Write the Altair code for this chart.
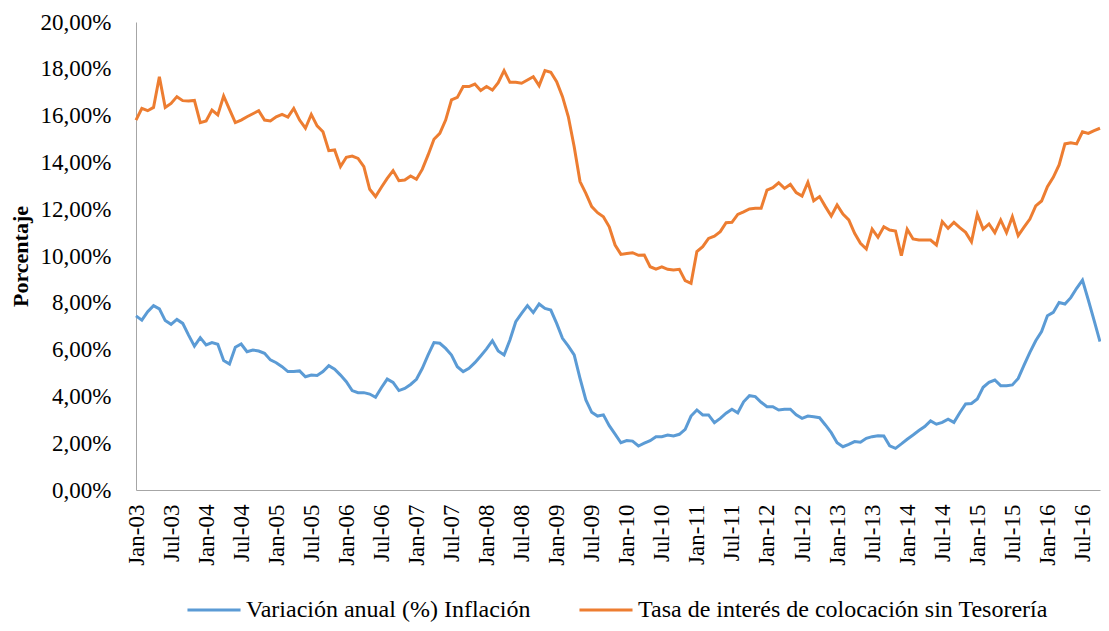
import altair as alt
import pandas as pd

abbr = ["Jan", "Feb", "Mar", "Apr", "May", "Jun", "Jul", "Aug", "Sep", "Oct", "Nov", "Dec"]
anios = list(range(3, 17))
meses = [f"{m}-{y:02d}" for y in anios for m in abbr][:166]
etiquetas_x = meses[::6]

series = ["Variación anual (%) Inflación", "Tasa de interés de colocación sin Tesorería"]
colores = ["#5B9BD5", "#ED7D31"]

inflacion = [
    7.44, 7.26, 7.62, 7.88, 7.74, 7.24, 7.08, 7.29, 7.12, 6.62,
    6.15, 6.51, 6.20, 6.30, 6.23, 5.53, 5.38, 6.10, 6.24, 5.91,
    5.98, 5.94, 5.84, 5.56, 5.44, 5.27, 5.06, 5.06, 5.09, 4.84,
    4.91, 4.89, 5.06, 5.31, 5.16, 4.91, 4.63, 4.25, 4.16, 4.16,
    4.10, 3.96, 4.37, 4.74, 4.60, 4.25, 4.34, 4.51, 4.73, 5.20,
    5.77, 6.30, 6.27, 6.05, 5.77, 5.27, 5.06, 5.20, 5.44, 5.73,
    6.03, 6.38, 5.94, 5.77, 6.41, 7.19, 7.55, 7.88, 7.58, 7.95,
    7.76, 7.69, 7.12, 6.48, 6.15, 5.77, 4.77, 3.85, 3.32, 3.16,
    3.21, 2.75, 2.39, 2.02, 2.11, 2.09, 1.88, 2.00, 2.11, 2.28,
    2.28, 2.35, 2.31, 2.38, 2.59, 3.16, 3.42, 3.21, 3.21, 2.88,
    3.06, 3.28, 3.45, 3.30, 3.77, 4.03, 3.99, 3.75, 3.56, 3.56,
    3.42, 3.45, 3.45, 3.21, 3.06, 3.16, 3.13, 3.09, 2.78, 2.45,
    2.02, 1.85, 1.95, 2.07, 2.04, 2.21, 2.28, 2.32, 2.31, 1.89,
    1.78, 1.97, 2.17, 2.35, 2.54, 2.71, 2.95, 2.81, 2.89, 3.03,
    2.89, 3.30, 3.68, 3.70, 3.89, 4.39, 4.60, 4.70, 4.46, 4.46,
    4.49, 4.77, 5.34, 5.88, 6.38, 6.77, 7.45, 7.59, 8.01, 7.95,
    8.22, 8.62, 8.97, 8.12, 7.24, 6.34,
]

tasa = [
    15.81, 16.31, 16.21, 16.35, 17.66, 16.35, 16.52, 16.81, 16.64, 16.62,
    16.65, 15.70, 15.77, 16.24, 16.03, 16.84, 16.27, 15.70, 15.81, 15.95,
    16.08, 16.21, 15.81, 15.77, 15.95, 16.05, 15.94, 16.31, 15.81, 15.46,
    16.05, 15.56, 15.31, 14.50, 14.53, 13.82, 14.22, 14.27, 14.17, 13.82,
    12.85, 12.54, 12.94, 13.32, 13.65, 13.22, 13.25, 13.42, 13.28, 13.70,
    14.32, 14.99, 15.24, 15.81, 16.67, 16.78, 17.24, 17.24, 17.35, 17.07,
    17.24, 17.09, 17.41, 17.92, 17.42, 17.42, 17.38, 17.52, 17.66, 17.28,
    17.92, 17.85, 17.45, 16.81, 15.95, 14.67, 13.18, 12.68, 12.11, 11.85,
    11.68, 11.25, 10.47, 10.07, 10.11, 10.14, 10.03, 10.04, 9.54, 9.44,
    9.54, 9.43, 9.40, 9.43, 8.95, 8.83, 10.19, 10.40, 10.75, 10.85,
    11.04, 11.42, 11.44, 11.78, 11.89, 12.01, 12.04, 12.04, 12.82, 12.92,
    13.13, 12.89, 13.06, 12.71, 12.56, 13.15, 12.36, 12.54, 12.11, 11.71,
    12.18, 11.79, 11.54, 10.97, 10.54, 10.30, 11.15, 10.80, 11.25, 11.11,
    11.07, 10.01, 11.14, 10.73, 10.68, 10.68, 10.68, 10.47, 11.47, 11.18,
    11.44, 11.21, 11.01, 10.61, 11.79, 11.15, 11.37, 11.00, 11.54, 11.00,
    11.68, 10.87, 11.23, 11.58, 12.14, 12.35, 12.96, 13.36, 13.89, 14.79,
    14.84, 14.79, 15.31, 15.24, 15.36, 15.46,
]

valores_y = [0, 2, 4, 6, 8, 10, 12, 14, 16, 18, 20]

rows = []
for s, vals in zip(series, [inflacion, tasa]):
    for i, (m, v) in enumerate(zip(meses, vals)):
        rows.append({"mes": m, "idx": i, "serie": s, "valor": v})
df = pd.DataFrame(rows)

FONT = "Liberation Serif"

chart = alt.Chart(df).mark_line(strokeWidth=3).encode(
    x=alt.X(
        "mes:N",
        sort=meses,
        scale=alt.Scale(type="point", padding=0),
        axis=alt.Axis(
            values=etiquetas_x,
            labelAngle=-90,
            title=None,
            ticks=False,
            tickSize=0,
            labelPadding=14,
            labelOverlap=False,
            labelFontSize=23,
            grid=False,
        ),
    ),
    y=alt.Y(
        "valor:Q",
        scale=alt.Scale(domain=[0, 20], nice=False, zero=True),
        axis=alt.Axis(
            values=valores_y,
            labelExpr="replace(format(datum.value, '.2f'), '.', ',') + '%'",
            title="Porcentaje",
            titleFontWeight="bold",
            titleFontSize=22,
            titlePadding=8,
            ticks=False,
            tickSize=0,
            labelPadding=25,
            labelFontSize=23,
            grid=False,
        ),
    ),
    color=alt.Color(
        "serie:N",
        scale=alt.Scale(domain=series, range=colores),
        legend=alt.Legend(
            title=None,
            orient="none",
            direction="horizontal",
            legendX=66,
            legendY=576,
            symbolType="M-4,0H4",
            symbolStrokeWidth=3,
            symbolSize=176,
            labelFontSize=24,
            labelOffset=20,
            columnPadding=42,
            labelLimit=700,
        ),
    ),
    order=alt.Order("idx:Q"),
).properties(
    width=964,
    height=468,
    autosize=alt.AutoSizeParams(type="none"),
    padding={"left": 128, "top": 14, "right": 1, "bottom": 132},
).configure_view(
    stroke=None
).configure_axis(
    domainColor="#A6A6A6",
    domainWidth=1,
    labelColor="#000000",
    titleColor="#000000",
    labelFont=FONT,
    titleFont=FONT,
).configure_legend(
    labelFont=FONT,
    labelColor="#000000",
)

chart.save("out.html", embed_options={"renderer": "svg", "actions": False})
